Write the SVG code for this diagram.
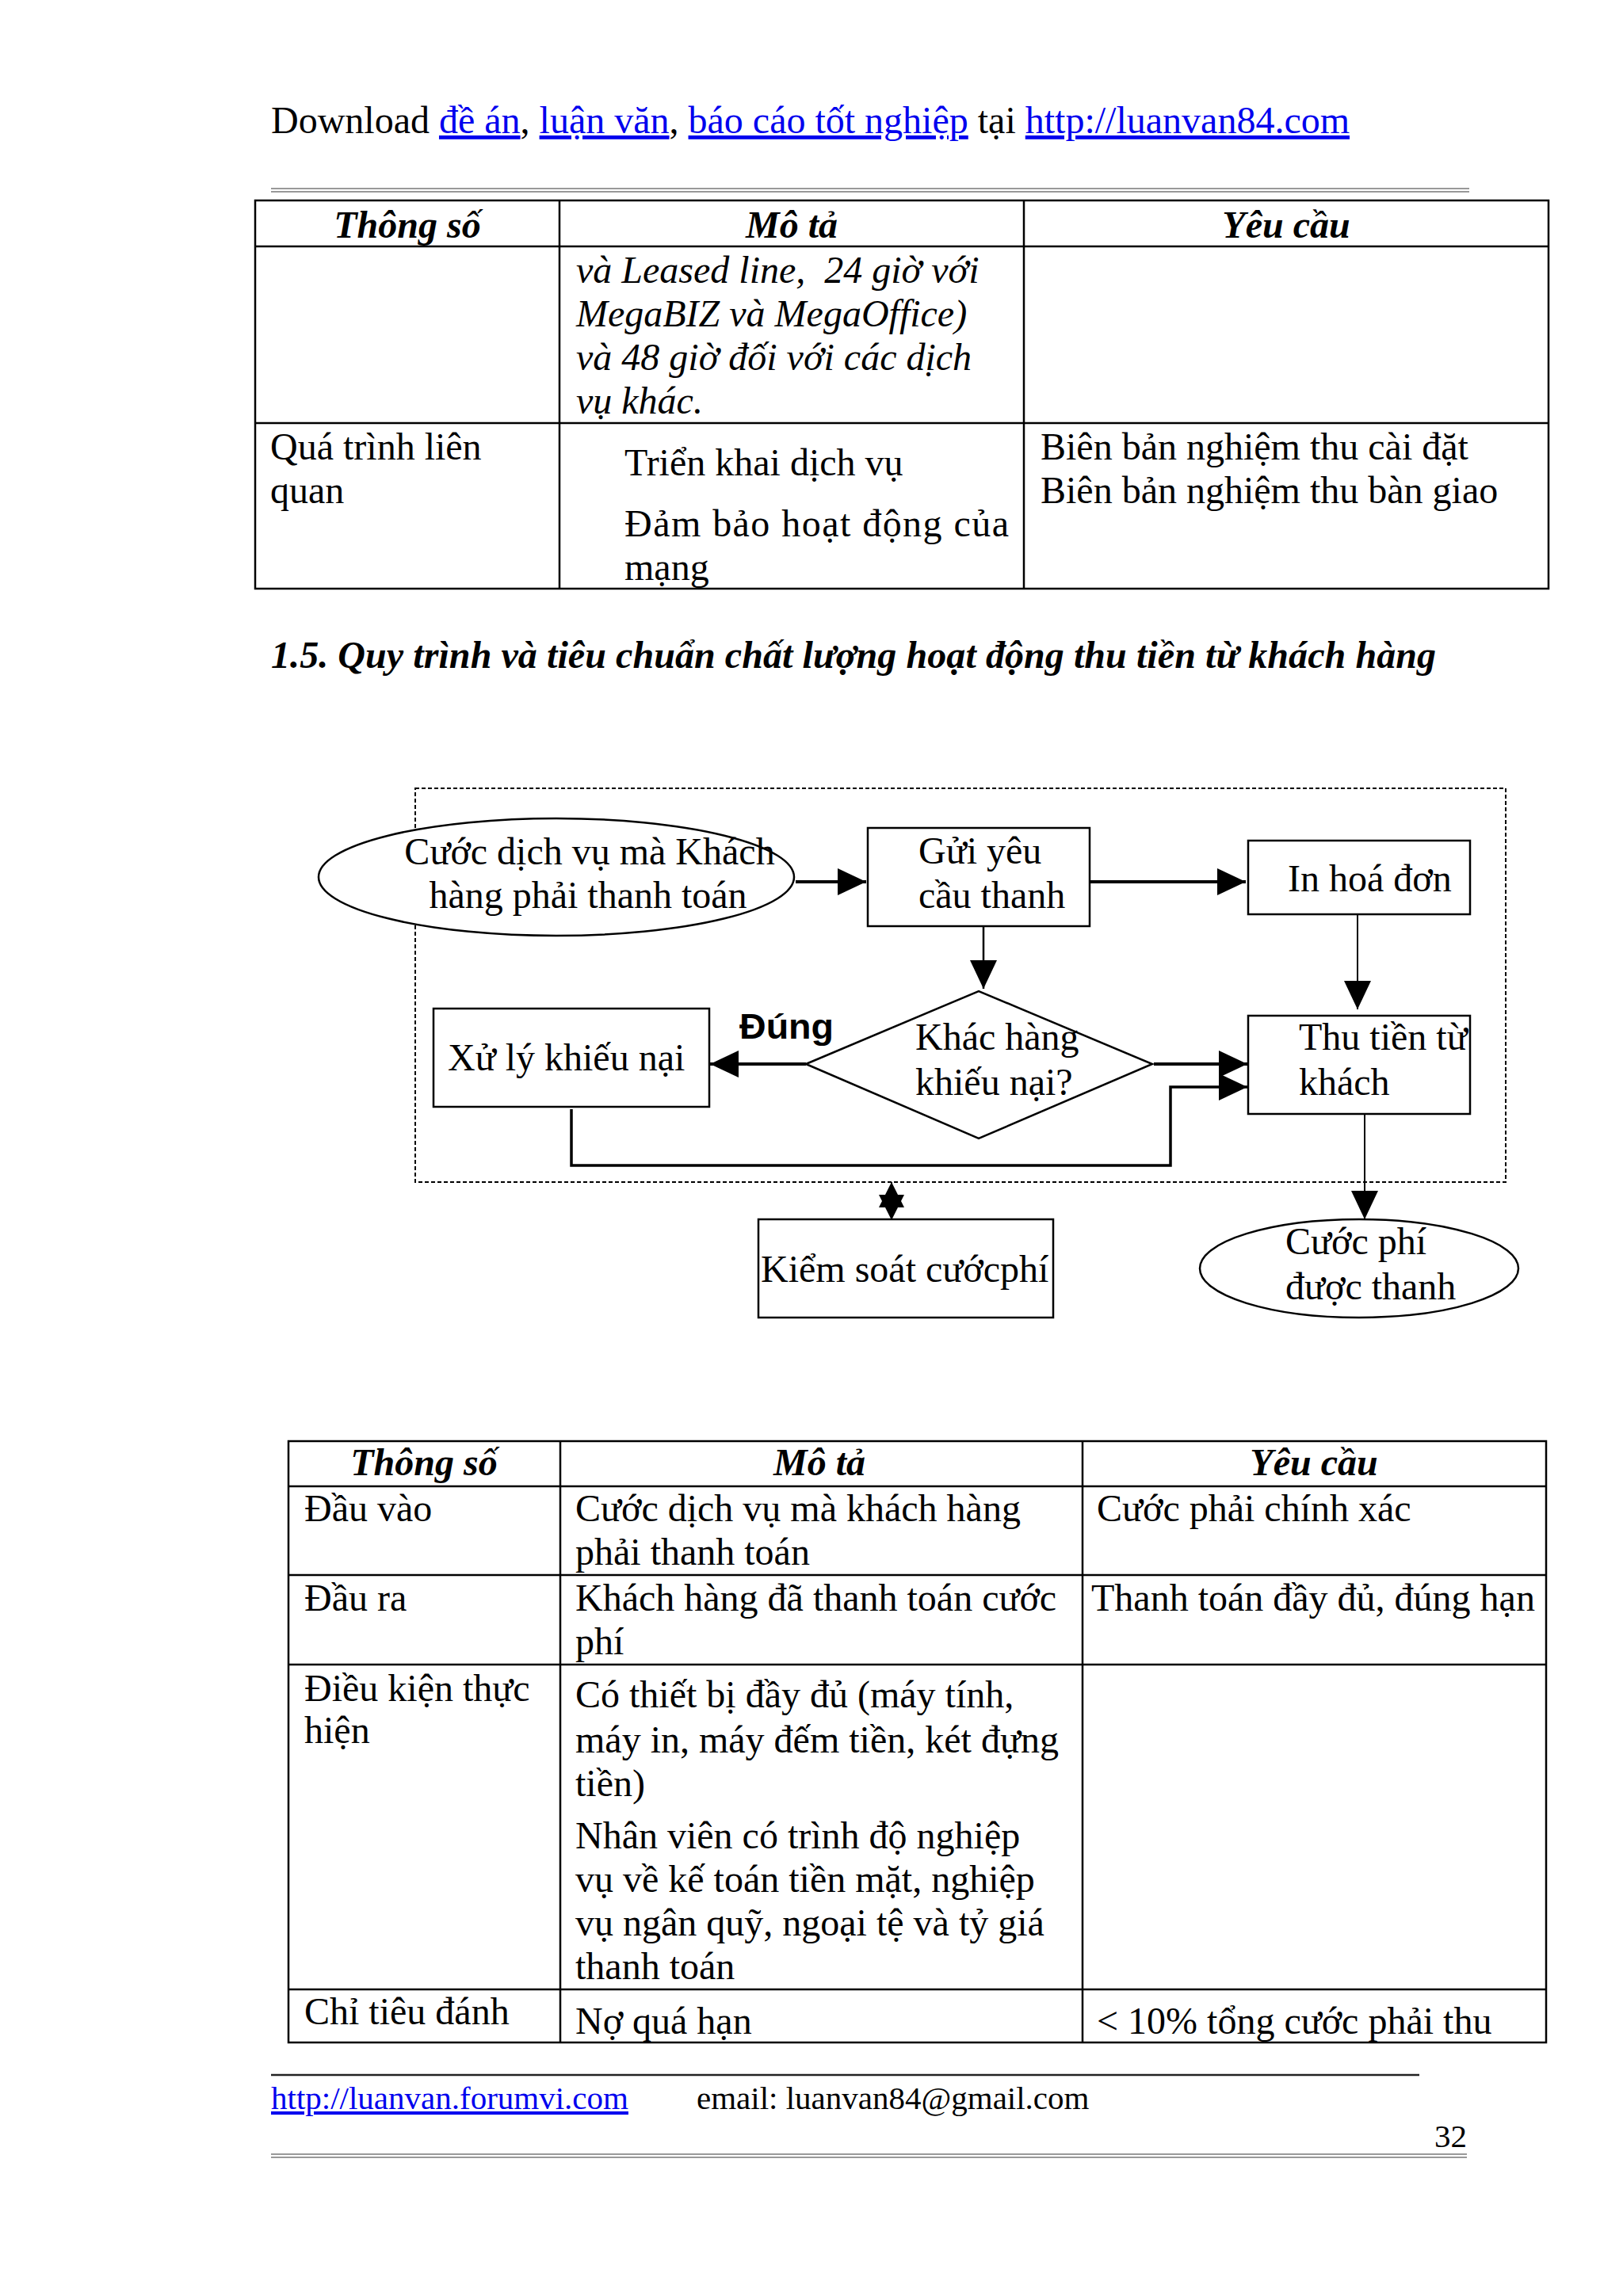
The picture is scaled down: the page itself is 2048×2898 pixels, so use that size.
<svg xmlns="http://www.w3.org/2000/svg" width="2048" height="2898" viewBox="0 0 2048 2898">
<style>
text{font-family:"Liberation Serif","Times New Roman",serif;font-size:48px;fill:#000}
.link{fill:#0000ee;text-decoration:underline}
.bi{font-weight:bold;font-style:italic}
.it{font-style:italic}
.ft{font-size:41px}
.sans{font-family:"Liberation Sans",Arial,sans-serif;font-weight:bold;font-size:44px}
.tb{fill:none;stroke:#000;stroke-width:2.5}
.gray{stroke:#999;stroke-width:2;fill:none}
.node{fill:#fff;stroke:#000;stroke-width:2.5}
.conn{fill:none;stroke:#000}
</style>
<defs>
<marker id="ah" markerUnits="userSpaceOnUse" markerWidth="40" markerHeight="36" refX="36" refY="18" orient="auto"><path d="M0,1 L36,18 L0,35 z" fill="#000"/></marker>
<marker id="ahs" markerUnits="userSpaceOnUse" markerWidth="34" markerHeight="34" refX="32" refY="17" orient="auto-start-reverse"><path d="M0,1 L32,17 L0,33 z" fill="#000"/></marker>
</defs>
<rect width="2048" height="2898" fill="#fff"/>

<g id="page-header">
<text x="342" y="168">Download <tspan class="link">đề án</tspan>, <tspan class="link">luận văn</tspan>, <tspan class="link">báo cáo tốt nghiệp</tspan> tại <tspan class="link">http://luanvan84.com</tspan></text>
<line class="gray" x1="342" y1="238" x2="1854" y2="238"/>
<line class="gray" x1="342" y1="242" x2="1854" y2="242"/>
</g>

<g id="table1">
<rect class="tb" x="322" y="253" width="1632" height="490"/>
<line class="tb" x1="322" y1="311" x2="1954" y2="311"/>
<line class="tb" x1="322" y1="534" x2="1954" y2="534"/>
<line class="tb" x1="706" y1="253" x2="706" y2="743"/>
<line class="tb" x1="1292" y1="253" x2="1292" y2="743"/>
<text class="bi" x="514" y="300" text-anchor="middle">Thông số</text>
<text class="bi" x="999" y="300" text-anchor="middle">Mô tả</text>
<text class="bi" x="1623" y="300" text-anchor="middle">Yêu cầu</text>
<text class="it" x="727" y="357" style="white-space:pre">và Leased line,  24 giờ với</text>
<text class="it" x="727" y="412">MegaBIZ và MegaOffice)</text>
<text class="it" x="727" y="467">và 48 giờ đối với các dịch</text>
<text class="it" x="727" y="522">vụ khác.</text>
<text x="341" y="580">Quá trình liên</text>
<text x="341" y="635">quan</text>
<text x="788" y="600">Triển khai dịch vụ</text>
<text x="788" y="677" textLength="485" lengthAdjust="spacing">Đảm bảo hoạt động của</text>
<text x="788" y="732">mạng</text>
<text x="1313" y="580">Biên bản nghiệm thu cài đặt</text>
<text x="1313" y="635">Biên bản nghiệm thu bàn giao</text>
</g>

<text class="bi" x="342" y="843" textLength="1470" lengthAdjust="spacing">1.5. Quy trình và tiêu chuẩn chất lượng hoạt động thu tiền từ khách hàng</text>

<rect x="524" y="995" width="1376" height="497" fill="none" stroke="#000" stroke-width="2" stroke-dasharray="5 3"/>

<g id="connectors">
<line class="conn" stroke-width="4" x1="1004" y1="1113" x2="1093" y2="1113" marker-end="url(#ah)"/>
<line class="conn" stroke-width="4" x1="1376" y1="1113" x2="1572" y2="1113" marker-end="url(#ah)"/>
<line class="conn" stroke-width="2.5" x1="1241" y1="1170" x2="1241" y2="1248" marker-end="url(#ah)"/>
<line class="conn" stroke-width="2" x1="1713" y1="1155" x2="1713" y2="1274" marker-end="url(#ah)"/>
<line class="conn" stroke-width="4" x1="1017" y1="1343" x2="896" y2="1343" marker-end="url(#ah)"/>
<line class="conn" stroke-width="4" x1="1456" y1="1343" x2="1574" y2="1343" marker-end="url(#ah)"/>
<polyline class="conn" stroke-width="3.5" points="721,1400 721,1471 1477,1471 1477,1372 1574,1372" marker-end="url(#ah)"/>
<line class="conn" stroke-width="2" x1="1722" y1="1407" x2="1722" y2="1539" marker-end="url(#ah)"/>
<line class="conn" stroke-width="2" x1="1125" y1="1492" x2="1125" y2="1540" marker-start="url(#ahs)" marker-end="url(#ahs)"/>
<text class="sans" x="933" y="1311" textLength="119" lengthAdjust="spacingAndGlyphs">Đúng</text>
</g>

<g id="n-cuoc-dich-vu">
<ellipse class="node" cx="702" cy="1107" rx="300" ry="74"/>
<text x="744" y="1091" text-anchor="middle">Cước dịch vụ mà Khách</text>
<text x="742" y="1146" text-anchor="middle">hàng phải thanh toán</text>
</g>
<g id="n-gui-yeu-cau">
<rect class="node" x="1095" y="1045" width="280" height="124"/>
<text x="1159" y="1090">Gửi yêu</text>
<text x="1159" y="1146">cầu thanh</text>
</g>
<g id="n-in-hoa-don">
<rect class="node" x="1575" y="1061" width="280" height="93"/>
<text x="1625" y="1125">In hoá đơn</text>
</g>
<g id="n-khieu-nai">
<polygon class="node" points="1017,1343 1235,1251 1454,1343 1235,1437"/>
<text x="1155" y="1325">Khác hàng</text>
<text x="1155" y="1382">khiếu nại?</text>
</g>
<g id="n-xu-ly">
<rect class="node" x="547" y="1273" width="348" height="124"/>
<text x="565" y="1351">Xử lý khiếu nại</text>
</g>
<g id="n-thu-tien">
<rect class="node" x="1575" y="1282" width="280" height="124"/>
<text x="1639" y="1325">Thu tiền từ</text>
<text x="1639" y="1382">khách</text>
</g>
<g id="n-kiem-soat">
<rect class="node" x="957" y="1539" width="372" height="124"/>
<text x="960" y="1618">Kiểm soát cướcphí</text>
</g>
<g id="n-cuoc-phi">
<ellipse class="node" cx="1715" cy="1601" rx="201" ry="62"/>
<text x="1622" y="1583">Cước phí</text>
<text x="1622" y="1640">được thanh</text>
</g>

<g id="table2">
<rect class="tb" x="364" y="1819" width="1587" height="759"/>
<line class="tb" x1="364" y1="1876" x2="1951" y2="1876"/>
<line class="tb" x1="364" y1="1988" x2="1951" y2="1988"/>
<line class="tb" x1="364" y1="2101" x2="1951" y2="2101"/>
<line class="tb" x1="364" y1="2511" x2="1951" y2="2511"/>
<line class="tb" x1="707" y1="1819" x2="707" y2="2578"/>
<line class="tb" x1="1366" y1="1819" x2="1366" y2="2578"/>
<text class="bi" x="535" y="1862" text-anchor="middle">Thông số</text>
<text class="bi" x="1034" y="1862" text-anchor="middle">Mô tả</text>
<text class="bi" x="1658" y="1862" text-anchor="middle">Yêu cầu</text>
<text x="384" y="1920">Đầu vào</text>
<text x="726" y="1920">Cước dịch vụ mà khách hàng</text>
<text x="726" y="1975">phải thanh toán</text>
<text x="1384" y="1920">Cước phải chính xác</text>
<text x="384" y="2033">Đầu ra</text>
<text x="726" y="2033">Khách hàng đã thanh toán cước</text>
<text x="726" y="2088">phí</text>
<text x="1377" y="2033">Thanh toán đầy đủ, đúng hạn</text>
<text x="384" y="2147">Điều kiện thực</text>
<text x="384" y="2200">hiện</text>
<text x="726" y="2155">Có thiết bị đầy đủ (máy tính,</text>
<text x="726" y="2212">máy in, máy đếm tiền, két đựng</text>
<text x="726" y="2267">tiền)</text>
<text x="726" y="2333">Nhân viên có trình độ nghiệp</text>
<text x="726" y="2388">vụ về kế toán tiền mặt, nghiệp</text>
<text x="726" y="2443">vụ ngân quỹ, ngoại tệ và tỷ giá</text>
<text x="726" y="2498">thanh toán</text>
<text x="384" y="2555">Chỉ tiêu đánh</text>
<text x="726" y="2567">Nợ quá hạn</text>
<text x="1384" y="2567">&lt; 10% tổng cước phải thu</text>
</g>

<g id="page-footer">
<line x1="342" y1="2619" x2="1791" y2="2619" stroke="#222" stroke-width="2.5"/>
<text class="ft link" x="342" y="2662">http://luanvan.forumvi.com</text>
<text class="ft" x="879" y="2662">email: luanvan84@gmail.com</text>
<text class="ft" x="1851" y="2710" text-anchor="end">32</text>
<line class="gray" x1="342" y1="2719" x2="1851" y2="2719"/>
<line class="gray" x1="342" y1="2723" x2="1851" y2="2723"/>
</g>
</svg>
